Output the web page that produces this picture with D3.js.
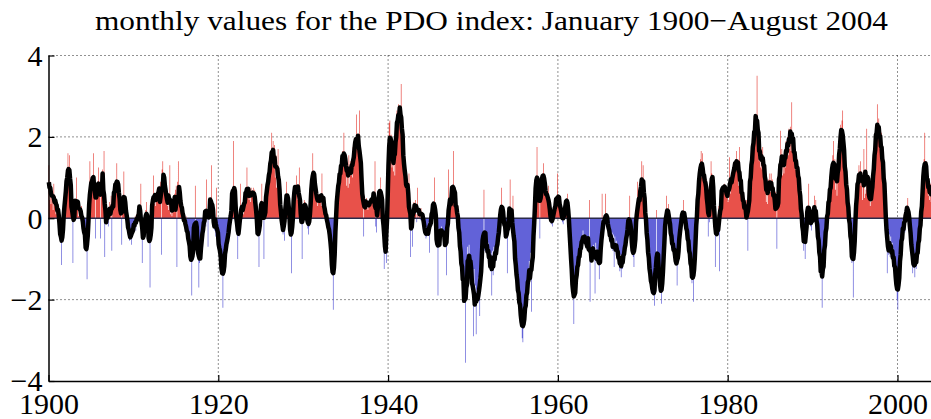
<!DOCTYPE html>
<html>
<head>
<meta charset="utf-8">
<script src="https://cdn.jsdelivr.net/npm/d3@7"></script>
<style>
  body { margin: 0; background: #fff; }
  svg { display: block; }
  text { font-family: "Times New Roman", "Liberation Serif", Tinos, Times, serif; fill: #000; }
</style>
</head>
<body>
<svg id="chart" width="931" height="419"></svg>
<script>
// monthly PDO index values (one array per decade)
const pdo1900s = [
  1.30, 0.45, 0.90, 0.35, 0.75, 0.60, 0.20, 0.85, 0.30, 0.55, 0.10, 0.40,
  0.40, 0.15, -0.10, 0.20, -0.30, -0.60, -1.15, -0.40, -0.30, 0.10, 0.35, 0.55,
  0.70, 0.60, 1.10, 1.60, 1.00, 1.55, 0.80, 0.95, 0.55, 0.20, -1.10, 0.30,
  0.30, 0.10, 0.45, 1.00, 0.20, 0.35, 0.05, 0.40, 0.25, 0.10, 0.30, -0.20,
  -0.15, 0.05, -0.40, -0.55, -0.70, -0.45, -1.50, -0.60, 0.10, 0.30, 1.40, 0.50,
  0.60, 0.85, 1.00, 1.60, 0.90, 0.70, -0.50, 0.80, 0.65, 0.90, 1.25, 0.55,
  0.90, -0.50, 1.10, 0.85, 1.20, 0.70, 1.65, -0.95, 0.30, 0.05, -0.10, 0.20,
  -0.20, 0.10, 0.40, 0.30, 0.55, -0.80, 0.60, 0.50, 0.70, 0.45, 0.90, 0.75,
  1.35, 0.80, 0.70, 0.85, 0.45, 0.30, 0.10, -0.65, 0.40, 0.55, 1.15, 0.30,
  0.20, 0.35, -0.05, 0.10, -0.25, -0.40, -0.55, -0.30, -0.45, -0.65, -0.20, -0.30
];
const pdo1910s = [
  -0.10, -0.25, 0.05, -0.30, 0.10, -0.15, 0.20, -0.05, 0.15, 0.30, 0.85, -0.30,
  -1.10, -0.20, -0.45, -0.35, -0.10, 0.20, 0.40, 0.15, -0.10, -0.30, -0.50, -1.70,
  -0.20, 0.10, 0.25, 0.40, 1.05, 0.35, 0.55, 0.30, 0.60, 0.45, 0.75, 0.55,
  0.65, 0.80, 0.90, -0.90, 1.20, 1.40, 1.10, 0.95, 0.70, 0.85, 0.40, 0.55,
  0.30, 0.20, 0.45, 1.30, 0.10, 0.25, 0.05, 0.20, 0.35, 0.15, 0.60, 0.70,
  0.80, -1.20, 0.90, 1.40, 0.60, 0.40, 0.55, 0.25, 0.30, 0.05, 0.15, -0.10,
  -0.10, -0.25, 0.05, -0.30, -0.45, -0.60, -0.40, -0.75, -0.70, -0.95, -1.90, -0.80,
  -0.60, -0.40, -0.20, 0.80, -0.35, -0.50, -0.30, -0.70, -1.70, -1.10, -0.85, -0.60,
  -0.70, -0.45, -0.20, 0.05, -0.10, 0.15, -0.20, 0.95, 0.10, -0.70, 0.30, 0.20,
  0.20, 0.30, 1.30, 0.10, -0.10, 0.05, -0.30, -0.20, -0.45, 0.75, -0.50, -0.70
];
const pdo1920s = [
  -0.55, -0.80, -0.65, -0.95, -1.10, -1.30, -2.20, -1.20, -1.00, -0.85, -0.60, -0.75,
  -0.70, -0.30, -0.45, -0.10, -0.20, 0.15, 0.30, 0.10, 0.55, 1.90, 0.50, 0.35,
  0.40, 0.20, 0.05, -1.00, -0.30, -0.45, -0.20, 0.85, -0.10, 0.20, 0.35, 0.10,
  0.45, 0.30, 0.60, 0.50, 1.25, 0.55, 0.70, 0.45, 0.65, 0.40, 0.75, 0.55,
  0.60, 0.75, 0.50, 0.70, 0.45, 0.20, -0.10, -0.35, -0.40, -1.20, 0.10, 0.30,
  0.25, 0.85, 0.15, 0.30, -1.00, 0.40, 0.20, 0.45, 0.70, 0.85, 1.10, 0.95,
  0.90, 1.50, 1.25, 2.10, 1.35, 1.90, 1.25, 1.80, 1.00, 1.55, 0.75, 1.25,
  1.70, 0.80, 0.65, 0.30, 0.10, -0.15, -0.05, -0.40, -0.30, -0.55, 0.30, 0.55,
  0.90, 0.60, 0.45, 0.30, 0.20, -0.10, -0.45, -1.35, -0.30, 0.40, 0.65, 0.75,
  0.60, 0.80, 1.05, 0.55, 0.45, 0.60, 1.25, 0.30, 0.10, -0.05, -1.00, 0.20
];
const pdo1930s = [
  0.30, 0.45, 0.40, 0.20, 0.30, 0.05, -0.25, -0.40, -0.20, 0.10, 0.35, 0.60,
  0.90, 1.60, 1.15, 0.95, 1.00, 0.70, 0.45, 0.55, 0.30, 0.50, 0.40, 0.55,
  0.40, 0.30, 1.10, 0.45, 0.35, 0.20, 0.40, 0.10, 0.05, -0.20, 0.00, -0.15,
  -0.30, -0.45, -0.50, -0.65, -1.00, -1.30, -2.25, -1.40, -0.80, -0.30, 0.30, 0.50,
  0.45, 1.05, 0.70, 1.25, 0.95, 1.45, 1.15, 1.65, 1.30, 2.10, 1.35, 1.55,
  1.45, 0.80, 1.30, 0.75, 1.55, 0.85, 1.40, 1.05, 1.30, 1.00, 1.75, 1.40,
  1.60, 1.75, 2.00, 2.55, 1.80, 1.65, 1.50, 2.65, 1.30, 1.20, 0.90, 0.75,
  0.60, -0.45, 0.55, 0.40, 0.35, 0.50, 0.25, 0.20, 0.40, 0.30, 0.45, 0.35,
  0.50, 0.40, 0.60, 0.35, 0.30, 1.40, -0.20, -0.35, 0.05, 0.30, 0.55, 0.70,
  0.65, 1.00, 0.45, 0.40, 0.30, 0.10, -1.25, -0.40, -0.75, -1.10, -0.60, 0.90
];
const pdo1940s = [
  1.35, 2.35, 2.40, 1.75, 2.05, 1.25, 1.90, 1.15, 1.45, 1.05, 2.15, 2.05,
  2.65, 2.10, 2.80, 2.40, 2.75, 2.35, 3.30, 1.95, 2.05, 1.35, 1.60, 0.80,
  0.90, 1.20, 0.70, 0.50, 0.60, 1.10, 0.15, -0.95, 0.05, 0.20, -0.70, 0.35,
  0.40, 0.30, 0.45, 0.10, -0.10, 0.75, 0.00, 0.20, 0.10, -0.05, 0.25, 0.10,
  0.15, 0.05, -0.10, -0.25, -0.40, -0.50, -0.45, -0.30, -0.20, -0.10, -0.85, 0.05,
  0.10, 0.00, 0.15, 0.20, 0.30, 1.00, 0.15, -0.10, -0.30, -0.45, -1.90, -0.40,
  -0.30, -0.25, -0.40, -0.20, -0.35, -0.30, -0.45, -0.40, -0.55, -0.50, -1.40, -0.30,
  -0.20, 1.20, 0.05, 0.20, 0.35, 0.50, 0.60, 0.70, 1.65, 0.40, 0.35, 0.25,
  0.50, 0.05, 0.30, -0.40, -0.20, -0.95, -0.50, -1.35, -1.05, -1.70, -1.35, -2.05,
  -1.50, -3.55, -1.35, -1.45, -0.70, -1.10, -0.65, -1.25, -0.90, -1.45, -1.05, -1.65
];
const pdo1950s = [
  -2.90, -1.25, -1.95, -1.65, -2.85, -1.75, -2.05, -1.45, -1.85, -2.40, -1.15, -1.35,
  -0.65, -1.00, -0.45, 0.70, -0.80, -0.35, -0.85, -0.50, -1.00, -0.60, -1.15, -0.75,
  -1.30, -0.85, -1.90, -0.80, -1.40, -0.70, -1.15, -0.75, -1.05, -0.60, -0.80, -0.35,
  -0.40, -0.20, 0.00, 0.25, 0.75, 0.30, 0.10, -0.10, -0.25, -0.35, -0.20, -0.10,
  -1.35, 0.00, 0.15, 0.05, 0.95, 0.05, -0.20, -0.35, 0.55, -0.60, -0.80, -1.00,
  -1.00, -1.55, -1.40, -1.95, -1.70, -2.25, -1.90, -2.55, -2.25, -2.95, -3.05, -2.40,
  -2.60, -2.00, -2.35, -1.75, -2.05, -1.35, -1.65, -1.05, -1.50, -0.85, -2.30, -0.80,
  -0.90, -0.60, -0.20, 0.30, 0.80, 1.00, 1.75, 0.80, 0.65, 0.50, -0.50, 0.70,
  0.80, 0.95, 1.10, 1.35, 1.00, 0.85, 0.60, 0.50, 0.45, 0.55, 0.80, 0.30,
  0.20, 0.00, -0.15, -0.10, -0.20, 0.10, 0.25, 0.30, 0.35, 0.20, 0.40, 1.10
];
const pdo1960s = [
  0.40, 0.30, 0.45, 0.35, 0.20, 0.05, -0.10, -0.15, 0.00, 0.20, 0.35, 0.45,
  0.45, 0.60, 0.30, 0.10, -0.40, -0.70, -1.00, -1.20, -1.50, -1.80, -2.60, -1.90,
  -1.80, -1.30, -1.55, -1.00, -1.35, -0.80, -1.05, -0.60, -0.90, -0.45, -0.70, -0.30,
  -0.40, -0.50, -0.45, -0.60, -0.70, -0.75, -0.65, -0.80, 0.45, -2.05, -0.85, -0.80,
  -0.80, -0.70, -0.65, -0.75, -1.85, -0.60, -0.75, -0.85, -0.90, -1.00, -1.50, -1.10,
  -1.00, -0.80, 0.60, -0.40, -0.30, -0.20, -0.10, 0.60, -0.05, 0.00, -0.10, -0.30,
  -0.20, -0.55, -0.30, -0.75, -0.35, -0.80, -0.40, -1.20, -0.45, -0.70, -0.55, -0.95,
  -0.70, -1.05, -0.85, -1.30, -0.90, -1.45, -1.00, -1.25, -0.75, -1.00, -0.60, -0.80,
  -0.50, -0.35, -0.25, -0.15, -0.10, 0.55, -0.20, -0.40, -0.60, -0.80, -0.95, -1.20,
  -0.70, -0.40, -0.20, -0.05, 0.90, 0.20, 0.30, 0.45, 0.55, 0.70, 1.40, 0.80
];
const pdo1970s = [
  1.30, 0.40, 0.65, 0.05, 0.10, -0.55, -0.40, -1.00, -0.80, -1.45, -1.20, -1.75,
  -1.60, -1.70, -1.80, -1.85, -2.15, -1.70, -1.40, 0.20, -1.00, -0.95, -1.20, -1.50,
  -1.70, -1.80, -2.10, -1.80, -1.40, -0.90, -0.40, -0.20, -0.10, 0.55, 0.05, 0.10,
  0.35, -0.15, 0.05, -0.60, -0.35, -0.80, -0.50, -0.90, -0.60, -1.10, -0.75, -1.15,
  -1.65, -0.90, -0.70, -0.50, -0.30, -0.20, -0.05, 0.05, 0.15, 0.45, 0.10, -0.10,
  0.05, -0.45, -0.10, -0.65, -0.40, -0.95, -0.70, -1.30, -1.00, -1.60, -1.25, -2.05,
  -1.40, -0.75, -0.85, 0.10, -0.10, 0.70, 0.35, 1.20, 0.85, 1.45, 1.65, 1.00,
  1.60, 1.00, 0.95, 0.85, 0.90, 0.95, 0.70, 0.40, -0.45, 0.10, -0.10, 0.40,
  1.40, 1.10, 1.00, 0.95, 0.60, 0.20, -1.20, -0.30, -0.35, -0.20, 0.10, 0.30,
  -1.30, 0.50, 0.70, 0.75, 0.60, 0.80, 0.75, 0.85, 0.70, 0.80, 0.60, 0.50
];
const pdo1980s = [
  0.40, 0.45, 1.50, 0.60, 0.80, 0.90, 1.00, 1.10, 1.15, 1.25, 1.30, 1.40,
  1.65, 1.20, 1.45, 0.80, 1.75, 0.65, 1.00, 0.45, 0.80, 0.25, 0.60, 0.10,
  0.35, 0.00, 0.45, 0.10, -0.80, 0.70, 0.40, 1.10, 0.80, 1.50, 1.20, 1.95,
  1.70, 2.40, 2.00, 2.55, 2.10, 3.50, 1.75, 2.10, 1.40, 1.75, 1.25, 1.70,
  1.20, 1.75, 1.25, 1.50, 0.85, 1.10, 0.40, 0.80, 0.35, 0.95, 0.60, 1.10,
  0.65, 1.10, 0.55, 0.95, 0.35, 0.75, 0.20, 0.65, 0.30, -0.75, 0.80, 0.35,
  0.80, 0.70, 2.15, 1.20, 1.70, 1.05, 1.50, 1.10, 1.65, 1.25, 1.90, 1.50,
  2.00, 1.55, 2.20, 1.70, 2.25, 1.65, 2.85, 1.60, 2.05, 1.50, 1.80, 1.20,
  1.55, 1.05, 1.45, 0.95, 1.20, 0.55, 0.75, 0.00, 0.25, -0.40, -0.05, -0.80,
  -0.60, -1.00, -0.40, -0.10, 0.15, 0.30, 0.85, 0.10, -0.10, -0.20, -0.30, -0.10
];
const pdo1990s = [
  0.30, -0.05, 0.55, 0.10, 0.45, -0.25, 0.05, -0.65, -0.35, -1.05, -0.70, -1.45,
  -1.15, -2.20, -1.05, -1.30, -0.55, -0.85, -0.15, -0.45, 0.30, -0.10, 0.60, 0.20,
  0.95, 0.50, 1.25, 0.85, 1.55, 1.90, 1.05, 1.45, 0.70, 1.10, 0.55, 1.20,
  1.00, 1.75, 1.55, 2.30, 1.95, 2.40, 2.65, 1.45, 1.80, 1.05, 1.40, 0.65,
  0.85, 0.20, 0.45, -0.20, 0.05, -0.65, -0.30, -1.10, -0.70, -1.95, -0.90, -0.35,
  -0.30, 0.65, 0.50, 1.05, 0.70, 1.30, 0.85, 1.40, 0.80, 1.15, 0.45, 0.80,
  1.70, 0.50, 0.60, 0.70, 2.20, 0.85, 0.75, 0.60, 0.45, 0.30, 0.40, 0.60,
  0.60, 1.25, 1.00, 1.75, 1.45, 2.25, 1.95, 2.80, 2.05, 2.45, 1.75, 2.15,
  1.65, 2.10, 1.20, 1.60, 0.75, 1.20, 0.15, 0.55, -0.45, -1.35, -0.35, -0.90,
  -0.40, -0.95, -0.45, -1.00, -0.60, -1.20, -0.75, -1.30, -0.95, -1.65, -1.35, -2.00
];
const pdo2000s = [
  -2.25, -1.45, -1.70, -0.75, -1.15, -0.25, -0.60, -0.05, -0.45, 0.10, -0.35, 0.25,
  0.10, 0.25, 0.50, 0.20, 0.00, -0.20, -0.40, -0.55, -0.70, -1.35, -0.95, -1.15,
  -1.45, -0.90, -1.25, -0.70, -1.10, -0.45, -0.75, -0.05, -0.35, 0.30, 0.00, 0.90,
  0.65, 1.45, 2.10, 1.05, 1.40, 0.75, 1.10, 0.55, 0.95, 0.45, 0.85, 0.40,
  0.55, 0.70, 0.80, 0.65, 0.85, 0.60, 0.40, 0.30
];

const startYear = 1900;
const xTicks = [1900, 1920, 1940, 1960, 1980, 2000];
const yTicks = [-4, -2, 0, 2, 4];
const titleText = "monthly values for the PDO index: January 1900\u2212August 2004";

const values = [].concat(pdo1900s, pdo1910s, pdo1920s, pdo1930s, pdo1940s,
  pdo1950s, pdo1960s, pdo1970s, pdo1980s, pdo1990s, pdo2000s);
const months = values.map((v, i) => ({ t: startYear + i / 12, v }));

// 5-month centred running mean for the black curve
const smooth = months.map((d, i) => {
  const w = values.slice(Math.max(0, i - 2), Math.min(values.length, i + 3));
  return { t: d.t, v: d3.mean(w) };
});

const W = 931;
const plotLeft = 48.5, plotTop = 55.5, plotBottom = 381;
const serif = '"Times New Roman", "Liberation Serif", Tinos, Times, serif';
const svg = d3.select("#chart");

const x = d3.scaleLinear().domain([1900, 2005]).range([plotLeft, plotLeft + 105 * 8.49]);
const y = d3.scaleLinear().domain([-4, 4]).range([plotBottom, plotTop]);

// dotted grid
const grid = svg.append("g")
  .attr("stroke", "#222").attr("stroke-width", 1).attr("stroke-dasharray", "1,3");
grid.selectAll("line.h").data(yTicks.filter(d => d !== 0 && d !== -4)).join("line")
  .attr("class", "h")
  .attr("x1", plotLeft).attr("x2", W).attr("y1", d => y(d)).attr("y2", d => y(d));
grid.selectAll("line.v").data(xTicks.slice(1)).join("line")
  .attr("class", "v")
  .attr("x1", d => x(d)).attr("x2", d => x(d)).attr("y1", plotTop).attr("y2", plotBottom);

// step fills, red above zero and blue below
const stepPts = months.concat([{ t: startYear + values.length / 12, v: values[values.length - 1] }]);
const posArea = d3.area().curve(d3.curveStepAfter)
  .x(d => x(d.t)).y0(y(0)).y1(d => y(Math.max(0, d.v)));
const negArea = d3.area().curve(d3.curveStepAfter)
  .x(d => x(d.t)).y0(y(0)).y1(d => y(Math.min(0, d.v)));
svg.append("path").attr("d", posArea(stepPts)).attr("fill", "#e8514a");
svg.append("path").attr("d", negArea(stepPts)).attr("fill", "#6262d8");

// zero line
svg.append("line")
  .attr("x1", plotLeft).attr("x2", W).attr("y1", y(0)).attr("y2", y(0))
  .attr("stroke", "#2a2a4a").attr("stroke-width", 1.5);

// smoothed curve
const line = d3.line().x(d => x(d.t + 1 / 24)).y(d => y(d.v));
svg.append("path").attr("d", line(smooth))
  .attr("fill", "none").attr("stroke", "#000").attr("stroke-width", 4.5)
  .attr("stroke-linejoin", "round");

// axes
const yAxis = d3.axisLeft(y).tickValues(yTicks).tickSizeInner(-6).tickSizeOuter(0)
  .tickFormat(d => d < 0 ? "\u2212" + Math.abs(d) : d);
const gy = svg.append("g").attr("transform", `translate(${plotLeft},0)`).call(yAxis);
gy.select(".domain").attr("stroke", "#000").attr("stroke-width", 1.5);
gy.selectAll(".tick line").attr("stroke", "#000").attr("stroke-width", 1.2);
gy.selectAll(".tick text").attr("x", -6).attr("dy", "0.33em")
  .style("font-family", serif).style("font-size", "30px").attr("fill", "#000");

const xAxis = d3.axisBottom(x).tickValues(xTicks).tickSizeInner(-6).tickSizeOuter(0)
  .tickFormat(d3.format("d"));
const gx = svg.append("g").attr("transform", `translate(0,${plotBottom})`).call(xAxis);
gx.select(".domain").attr("stroke", "#000").attr("stroke-width", 1.5);
gx.selectAll(".tick line").attr("stroke", "#000").attr("stroke-width", 1.2);
gx.selectAll(".tick text").attr("y", 33).attr("dy", 0)
  .style("font-family", serif).style("font-size", "30px").attr("fill", "#000");

// title
svg.append("text")
  .attr("x", 491.5).attr("y", 30).attr("text-anchor", "middle")
  .attr("textLength", 793).attr("lengthAdjust", "spacingAndGlyphs")
  .style("font-family", serif).style("font-size", "28px")
  .text(titleText);
</script>
</body>
</html>
